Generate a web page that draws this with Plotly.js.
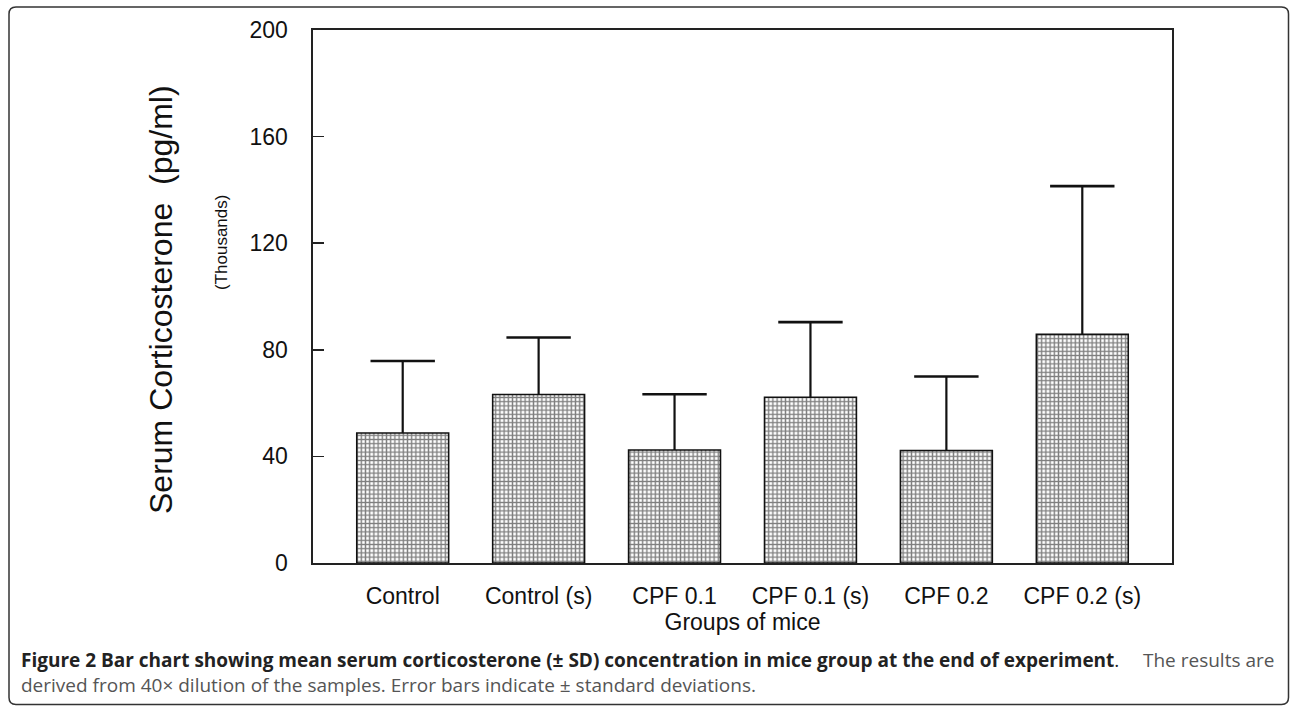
<!DOCTYPE html>
<html>
<head>
<meta charset="utf-8">
<script src="https://cdn.plot.ly/plotly-3.0.1.min.js"></script>
<style>
html,body{margin:0;padding:0;background:#fff;}
#chart{width:1290px;height:706px;}
</style>
</head>
<body>
<div id="chart"></div>
<script>
// ---- data (values in thousands of pg/ml) ----
const groups = ["Control", "Control (s)", "CPF 0.1", "CPF 0.1 (s)", "CPF 0.2", "CPF 0.2 (s)"];
const meanValues = [48.8, 63.2, 42.4, 62.2, 42.2, 85.8];
const sdValues = [27.0, 21.4, 20.9, 28.2, 27.8, 55.6];
const yTickValues = [0, 40, 80, 120, 160, 200];

// ---- layout geometry (pixels) ----
const W = 1290, H = 706;
const PL = 313, PR = 1172, PT = 30, PB = 563;
const pw = PR - PL, ph = PB - PT;
const px = v => (v - PL) / pw;
const py = v => (PB - v) / ph;

const capTops = meanValues.map((m, i) => m + sdValues[i]);

const bars = {
  type: "bar",
  x: groups,
  y: meanValues,
  width: 0.676,
  marker: {
    color: "#ffffff",
    line: {color: "#111", width: 1.6},
    pattern: {shape: "+", size: 4.2, solidity: 0.55, fgcolor: "#000", bgcolor: "#ffffff", fillmode: "overlay"}
  },
  error_y: {type: "data", symmetric: false, array: sdValues, arrayminus: sdValues.map(() => 0),
            color: "#111", thickness: 2.2, width: 0},
  hoverinfo: "x+y",
  showlegend: false
};

const caps = {
  type: "scatter",
  mode: "markers",
  x: groups,
  y: capTops,
  marker: {symbol: "line-ew", size: 46, line: {color: "#111", width: 2.6}},
  hoverinfo: "skip",
  showlegend: false,
  cliponaxis: false
};

// rounded outer frame
function framePath(x0, y0, x1, y1, r) {
  const P = (x, y) => px(x) + "," + py(y);
  return "M" + P(x0, y0 + r) + " Q" + P(x0, y0) + " " + P(x0 + r, y0) +
    " L" + P(x1 - r, y0) + " Q" + P(x1, y0) + " " + P(x1, y0 + r) +
    " L" + P(x1, y1 - r) + " Q" + P(x1, y1) + " " + P(x1 - r, y1) +
    " L" + P(x0 + r, y1) + " Q" + P(x0, y1) + " " + P(x0, y1 - r) + " Z";
}

const axisFont = {family: "Liberation Sans, Arial, sans-serif", size: 23, color: "#111"};
const capFont = {family: "Open Sans, sans-serif", size: 19, color: "#555"};
const capBold = {family: "Open Sans, sans-serif", size: 19, color: "#222"};

const layout = {
  width: W, height: H,
  margin: {l: PL, r: W - PR, t: PT, b: H - PB, pad: 0},
  paper_bgcolor: "#ffffff",
  plot_bgcolor: "#ffffff",
  font: axisFont,
  showlegend: false,
  xaxis: {
    type: "category",
    categoryorder: "array",
    categoryarray: groups,
    range: [-0.66, 5.66],
    showline: true, linecolor: "#222", linewidth: 1.6, mirror: true,
    ticks: "", showgrid: false, zeroline: false,
    tickfont: axisFont,
    ticklabelstandoff: 12,
    title: {text: "Groups of mice", font: axisFont, standoff: 2}
  },
  yaxis: {
    range: [0, 200],
    tickvals: yTickValues,
    ticktext: yTickValues.map(String),
    ticks: "inside", ticklen: 11, tickwidth: 1.5, tickcolor: "#222",
    showline: true, linecolor: "#222", linewidth: 1.6, mirror: true,
    showgrid: false, zeroline: false,
    tickfont: axisFont,
    ticklabelstandoff: 19,
    title: {text: ""}
  },
  annotations: [
    {xref: "paper", yref: "paper", x: px(161), y: py(300), text: "Serum Corticosterone  (pg/ml)",
     textangle: -90, showarrow: false, xanchor: "center", yanchor: "middle",
     font: {family: "Liberation Sans, Arial, sans-serif", size: 32, color: "#111"}},
    {xref: "paper", yref: "paper", x: px(222), y: py(243), text: "(Thousands)",
     textangle: -90, showarrow: false, xanchor: "center", yanchor: "middle",
     font: {family: "Liberation Sans, Arial, sans-serif", size: 17, color: "#111"}},
    {xref: "paper", yref: "paper", x: px(19), y: py(660), xanchor: "left", yanchor: "middle", showarrow: false,
     text: "<b>Figure 2 Bar chart showing mean serum corticosterone (± SD) concentration in mice group at the end of experiment</b>.",
     font: capBold},
    {xref: "paper", yref: "paper", x: px(1276), y: py(660), xanchor: "right", yanchor: "middle", showarrow: false,
     text: "The results are",
     font: capFont},
    {xref: "paper", yref: "paper", x: px(19), y: py(685), xanchor: "left", yanchor: "middle", showarrow: false,
     text: "derived from 40× dilution of the samples. Error bars indicate ± standard deviations.",
     font: capFont}
  ],
  shapes: [
    {type: "path", xref: "paper", yref: "paper", path: framePath(9, 7, 1288.5, 704.5, 7),
     line: {color: "#333", width: 1.5}, fillcolor: "rgba(0,0,0,0)", layer: "below"}
  ]
};

Plotly.newPlot("chart", [bars, caps], layout, {displayModeBar: false, staticPlot: true});
</script>
</body>
</html>
